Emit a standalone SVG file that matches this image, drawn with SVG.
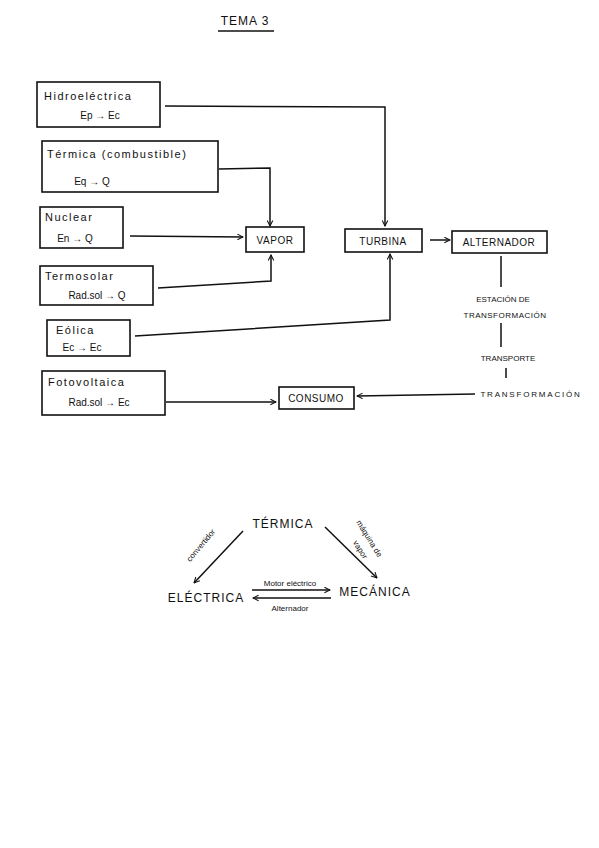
<svg xmlns="http://www.w3.org/2000/svg" width="599" height="848" viewBox="0 0 599 848">
<defs>
<marker id="ah" viewBox="0 0 10 10" refX="9" refY="5" markerWidth="7" markerHeight="7" orient="auto-start-reverse" markerUnits="userSpaceOnUse">
<path d="M1,1 L9,5 L1,9" fill="none" stroke="#111" stroke-width="1.5"/>
</marker>
<style>
.box{fill:#fff;stroke:#111;stroke-width:1.6}
.ln{fill:none;stroke:#111;stroke-width:1.5}
.t{font-family:"Liberation Sans",Arial,sans-serif;font-size:11px;fill:#111;letter-spacing:1.5px}
.tc{font-family:"Liberation Sans",Arial,sans-serif;font-size:10px;fill:#111;text-anchor:middle}
.cap{font-family:"Liberation Sans",Arial,sans-serif;font-size:10px;fill:#111;text-anchor:middle;letter-spacing:0.5px}
.big{font-family:"Liberation Sans",Arial,sans-serif;font-size:12px;fill:#111;text-anchor:middle;letter-spacing:1px}
.sm{font-family:"Liberation Sans",Arial,sans-serif;font-size:8px;fill:#111;text-anchor:middle}
</style>
</defs>
<rect width="599" height="848" fill="#fff"/>

<g id="title">
<text class="big" x="245" y="25">TEMA 3</text>
<line class="ln" x1="218" y1="31" x2="274" y2="31"/>
</g>

<g id="connectors">
<polyline class="ln" points="165,106 385,107 385,226" marker-end="url(#ah)"/>
<polyline class="ln" points="219,169 270,168 270,226" marker-end="url(#ah)"/>
<line class="ln" x1="130" y1="236" x2="243" y2="237" marker-end="url(#ah)"/>
<polyline class="ln" points="158,288 271,281 271,255" marker-end="url(#ah)"/>
<polyline class="ln" points="135,336 390,320 390,254" marker-end="url(#ah)"/>
<line class="ln" x1="166" y1="402" x2="276" y2="402" marker-end="url(#ah)"/>
<line class="ln" x1="430" y1="240" x2="450" y2="240" marker-end="url(#ah)"/>
<line class="ln" x1="501" y1="256" x2="501" y2="287"/>
<line class="ln" x1="501" y1="323" x2="501" y2="347"/>
<line class="ln" x1="506" y1="368" x2="506" y2="378"/>
<line class="ln" x1="475" y1="394" x2="357" y2="396" marker-end="url(#ah)"/>
<line class="ln" x1="243" y1="531" x2="194" y2="583" marker-end="url(#ah)"/>
<line class="ln" x1="325" y1="527" x2="377" y2="578" marker-end="url(#ah)"/>
<line class="ln" x1="252" y1="590" x2="330" y2="590" marker-end="url(#ah)"/>
<line class="ln" x1="331" y1="598" x2="253" y2="598" marker-end="url(#ah)"/>
</g>

<g id="hidro">
<rect class="box" x="37" y="82" width="123" height="45"/>
<text class="t" x="44" y="100">Hidroeléctrica</text>
<text class="tc" x="100" y="119">Ep → Ec</text>
</g>
<g id="termica">
<rect class="box" x="42" y="141" width="176" height="51"/>
<text class="t" x="47" y="158">Térmica (combustible)</text>
<text class="tc" x="92" y="185">Eq → Q</text>
</g>
<g id="nuclear">
<rect class="box" x="40" y="207" width="83" height="41"/>
<text class="t" x="45" y="221">Nuclear</text>
<text class="tc" x="75" y="242">En → Q</text>
</g>
<g id="termosolar">
<rect class="box" x="40" y="266" width="113" height="39"/>
<text class="t" x="45" y="280">Termosolar</text>
<text class="tc" x="97" y="299">Rad.sol → Q</text>
</g>
<g id="eolica">
<rect class="box" x="47" y="320" width="83" height="36"/>
<text class="t" x="56" y="334">Eólica</text>
<text class="tc" x="82" y="351">Ec → Ec</text>
</g>
<g id="fotovoltaica">
<rect class="box" x="42" y="371" width="123" height="44"/>
<text class="t" x="48" y="386">Fotovoltaica</text>
<text class="tc" x="99" y="406">Rad.sol → Ec</text>
</g>

<g id="vapor">
<rect class="box" x="246" y="227" width="58" height="25"/>
<text class="cap" x="275" y="244">VAPOR</text>
</g>
<g id="turbina">
<rect class="box" x="345" y="229" width="77" height="23"/>
<text class="cap" x="383" y="245">TURBINA</text>
</g>
<g id="alternador">
<rect class="box" x="452" y="231" width="95" height="22"/>
<text class="cap" x="499" y="246">ALTERNADOR</text>
</g>
<g id="estacion">
<text class="sm" x="503" y="302">ESTACIÓN DE</text>
<text class="sm" x="505" y="318" style="letter-spacing:0.5px">TRANSFORMACIÓN</text>
</g>
<g id="transporte">
<text class="sm" x="508" y="361">TRANSPORTE</text>
</g>
<g id="transformacion">
<text class="sm" x="531" y="397" style="letter-spacing:1.8px">TRANSFORMACIÓN</text>
</g>
<g id="consumo">
<rect class="box" x="279" y="387" width="75" height="22"/>
<text class="cap" x="316" y="402">CONSUMO</text>
</g>

<g id="t-termica"><text class="big" x="283" y="528">TÉRMICA</text></g>
<g id="t-electrica"><text class="big" x="206" y="602">ELÉCTRICA</text></g>
<g id="t-mecanica"><text class="big" x="375" y="596">MECÁNICA</text></g>

<g id="labels">
<text class="sm" transform="translate(203,547) rotate(-50)">convertidor</text>
<text class="sm" transform="translate(367,540) rotate(58)">máquina de</text>
<text class="sm" transform="translate(358,551) rotate(58)">vapor</text>
<text class="sm" x="290" y="586">Motor eléctrico</text>
<text class="sm" x="290" y="611">Alternador</text>
</g>
</svg>
